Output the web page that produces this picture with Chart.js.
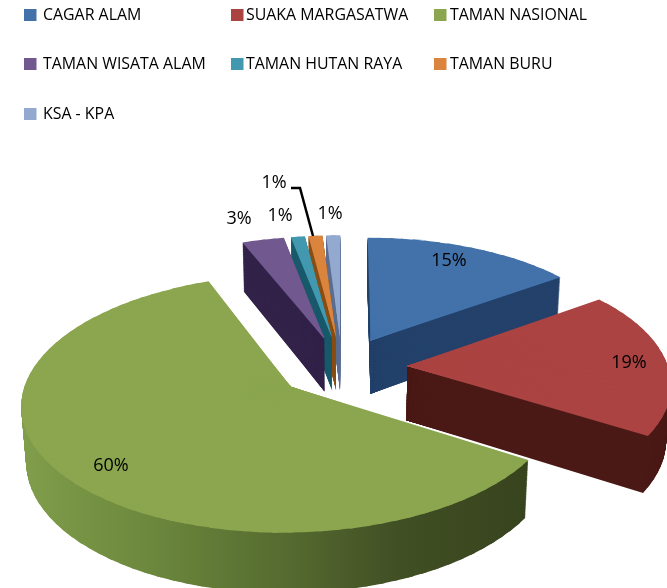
<!DOCTYPE html>
<html>
<head>
<meta charset="utf-8">
<style>html,body{margin:0;padding:0;background:#fff}canvas{display:block;filter:blur(0.45px)}</style>
<script src="https://cdn.jsdelivr.net/npm/chart.js@4"></script>
</head>
<body>
<canvas id="c" width="667" height="588"></canvas>
<script>
const categories = ["CAGAR ALAM","SUAKA MARGASATWA","TAMAN NASIONAL","TAMAN WISATA ALAM","TAMAN HUTAN RAYA","TAMAN BURU","KSA - KPA"];
const shares = [15,19,60,3,1,1,1];
const topColors = ["#4272a9","#aa4341","#8ba64f","#71588f","#4198af","#db843d","#93a9cf"];
const wallColors = ["#24426b","#4b1a17",null,"#33234a","#1a5a6c","#8a4f14","#5d6f92"];
const greenWallStops = [[20,"#809e4b"],[150,"#6c883d"],[280,"#566c30"],[400,"#414f24"],[530,"#37431d"]];

// 3D camera (perspective ground-plane projection of the unit pie)
const cam = {cx:342, cy:367, A:261, B:122, D:55, k:0.126, m:0.015};
const explode = 0.25;
const drawOrder = [6,5,4,3,0,1,2];
const legendCols = [[24,43],[231,246],[434,450]];
const legendRows = [15,64,114];
const legendPlace = [[0,0],[1,0],[2,0],[0,1],[1,1],[2,1],[0,2]];
const labelPlace = [[449,261],[629,363],[111,466],[239,219],[280,216],[274,183],[330,214]];
const leader = [[291,188],[300,188],[313,236]];

function project(u,v,z){
  const w = 1 - cam.k*v + cam.m*z;
  return [cam.cx + cam.A*u/w, cam.cy + (cam.B*v + cam.D*z)/w];
}
function wallFill(ctx,i,M){
  if(wallColors[i]) return wallColors[i];
  const [a,b,c,d,e,f] = M, n = a*a+c*c;
  const x0 = greenWallStops[0][0], x1 = greenWallStops[greenWallStops.length-1][0];
  const t0 = (x0-e)/n, t1 = (x1-e)/n;
  const g = ctx.createLinearGradient(t0*a,t0*c,t1*a,t1*c);
  greenWallStops.forEach(s=>g.addColorStop((s[0]-x0)/(x1-x0),s[1]));
  return g;
}
function paintSlice(ctx,el,i,z,fill){
  const mid = (el.startAngle+el.endAngle)/2;
  const ou = explode*Math.cos(mid), ov = explode*Math.sin(mid);
  const span = el.endAngle-el.startAngle;
  const n = Math.max(2,Math.ceil(span/(3*Math.PI/180)));
  const r = el.outerRadius, X = el.x, Y = el.y;
  const P0 = project(ou,ov,z);
  for(let j=0;j<n;j++){
    const a1 = el.startAngle+span*j/n, a2 = el.startAngle+span*(j+1)/n;
    const P1 = project(ou+Math.cos(a1),ov+Math.sin(a1),z);
    const P2 = project(ou+Math.cos(a2),ov+Math.sin(a2),z);
    const l1x=r*Math.cos(a1), l1y=r*Math.sin(a1), l2x=r*Math.cos(a2), l2y=r*Math.sin(a2);
    const det = l1x*l2y-l2x*l1y;
    const v1x=P1[0]-P0[0], v1y=P1[1]-P0[1], v2x=P2[0]-P0[0], v2y=P2[1]-P0[1];
    const a=(v1x*l2y-v2x*l1y)/det, c=(v2x*l1x-v1x*l2x)/det;
    const b=(v1y*l2y-v2y*l1y)/det, d=(v2y*l1x-v1y*l2x)/det;
    const e=P0[0]-a*X-c*Y, f=P0[1]-b*X-d*Y;
    const M=[a,b,c,d,e,f];
    ctx.save();
    ctx.transform(a,b,c,d,e,f);
    ctx.beginPath();
    // wedge clip grown sideways so neighbouring wedges overlap with no seam
    const grow=3, am=(a1+a2)/2;
    const n1x=grow*Math.sin(a1), n1y=-grow*Math.cos(a1);
    const n2x=-grow*Math.sin(a2), n2y=grow*Math.cos(a2);
    const bx=-grow*Math.cos(am), by=-grow*Math.sin(am);
    ctx.moveTo(X+n1x+bx,Y+n1y+by);
    ctx.lineTo(X+1.3*l1x+n1x,Y+1.3*l1y+n1y);
    ctx.lineTo(X+1.3*l2x+n2x,Y+1.3*l2y+n2y);
    ctx.lineTo(X+n2x+bx,Y+n2y+by);
    ctx.closePath();
    ctx.clip();
    const saved = el.options;
    el.options = {backgroundColor: fill || wallFill(ctx,i,M), borderColor:'transparent', borderWidth:0, offset:0, spacing:0, circular:true, borderRadius:0, borderAlign:'center'};
    el.draw(ctx);
    el.options = saved;
    ctx.restore();
  }
}
const pie3d = {
  id:'pie3d',
  beforeDatasetsDraw(chart){
    const ctx = chart.ctx, arcs = chart.getDatasetMeta(0).data;
    drawOrder.forEach(i=>{
      const steps = 70;
      for(let s=steps;s>=1;s--) paintSlice(ctx,arcs[i],i,s/steps,null);
      paintSlice(ctx,arcs[i],i,0,topColors[i]);
    });
    return false;
  },
  afterDraw(chart){
    const ctx = chart.ctx, total = shares.reduce((p,q)=>p+q,0);
    ctx.save();
    ctx.textBaseline='middle';
    categories.forEach((t,i)=>{
      const col=legendCols[legendPlace[i][0]], y=legendRows[legendPlace[i][1]];
      ctx.fillStyle=topColors[i];
      ctx.fillRect(col[0],y-6,12.5,12);
      ctx.fillStyle='#000';
      ctx.font='15.9px "Open Sans"';
      ctx.textAlign='left';
      ctx.fillText(t,col[1],y+0.5);
    });
    ctx.font='18px "Open Sans"';
    ctx.textAlign='center';
    shares.forEach((v,i)=>{
      ctx.fillText(Math.round(v/total*100)+'%',labelPlace[i][0],labelPlace[i][1]);
    });
    ctx.beginPath();
    leader.forEach((p,i)=>i?ctx.lineTo(p[0],p[1]):ctx.moveTo(p[0],p[1]));
    ctx.lineWidth=2.5;
    ctx.strokeStyle='#000';
    ctx.stroke();
    ctx.restore();
  }
};
new Chart(document.getElementById('c'),{
  type:'pie',
  data:{labels:categories,datasets:[{data:shares,backgroundColor:topColors,borderWidth:0}]},
  options:{
    responsive:false,animation:false,
    plugins:{legend:{display:false},tooltip:{enabled:false}},
    layout:{padding:0}
  },
  plugins:[pie3d]
});
</script>
</body>
</html>
